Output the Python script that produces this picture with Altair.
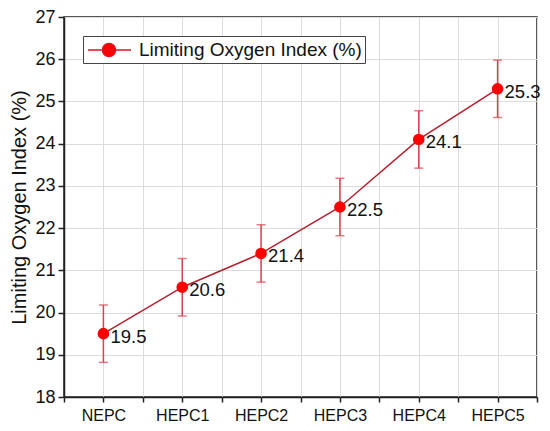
import altair as alt
import pandas as pd

categories = ["NEPC", "HEPC1", "HEPC2", "HEPC3", "HEPC4", "HEPC5"]
loi = [19.5, 20.6, 21.4, 22.5, 24.1, 25.3]
err = [0.68, 0.68, 0.68, 0.68, 0.68, 0.68]
series_name = "Limiting Oxygen Index (%)"

df = pd.DataFrame({
    "idx": list(range(len(categories))),
    "cat": categories,
    "loi": loi,
    "lo": [v - e for v, e in zip(loi, err)],
    "hi": [v + e for v, e in zip(loi, err)],
    "label": [f"{v:.1f}" for v in loi],
    "series": [series_name] * len(categories),
})

FONT = "Arial, Liberation Sans, sans-serif"
half_vals_x = [i / 2 for i in range(-1, 2 * len(categories))]
half_vals_y = [18 + i / 2 for i in range(0, 19)]

xlab = "''"
for i in reversed(range(len(categories))):
    xlab = f"(datum.value == {i}) ? '{categories[i]}' : ({xlab})"

is_int = "datum.value % 1 == 0"

x_scale = alt.Scale(domain=[-0.5, len(categories) - 0.5], nice=False, zero=False)
x_axis = alt.Axis(
    title=None, values=half_vals_x, labelExpr=xlab, grid=True,
    gridColor="#dcdcdc", gridWidth=1, tickSize=5, tickColor="#222",
    tickWidth=1.5, domainColor="#222", domainWidth=1.5,
    labelFontSize=16, labelFont=FONT, labelColor="#111", labelPadding=5,
    labelOverlap=False,
)
y_scale = alt.Scale(domain=[18, 27], nice=False, zero=False)
y_axis = alt.Axis(
    title="Limiting Oxygen Index (%)", values=half_vals_y, format="d",
    labelExpr=f"{is_int} ? datum.label : ''",
    grid=True,
    gridColor={"condition": {"test": is_int, "value": "#dcdcdc"}, "value": "rgba(0,0,0,0)"},
    tickSize={"condition": {"test": is_int, "value": 6}, "value": 3},
    gridWidth=1, tickColor="#222", tickWidth=1.5,
    domainColor="#222", domainWidth=1.5,
    labelFontSize=18, labelFont=FONT, labelColor="#111", labelPadding=3,
    labelOverlap=False,
    titleFontSize=20, titleFont=FONT, titleFontWeight="normal", titleColor="#111",
    titlePadding=5,
)

X = alt.X("idx:Q", scale=x_scale, axis=x_axis)
def Y(field):
    return alt.Y(field, type="quantitative", scale=y_scale, axis=y_axis)

base = alt.Chart(df)

line = base.mark_line(color="#b5202e", strokeWidth=1.5).encode(x=X, y=Y("loi"))
bars = base.mark_rule(color="#d9434f", strokeWidth=1.5).encode(
    x=X, y=Y("lo"), y2="hi:Q"
)
cap_lo = base.mark_tick(color="#d9434f", orient="horizontal", size=9, thickness=1.5).encode(
    x=X, y=Y("lo")
)
cap_hi = base.mark_tick(color="#d9434f", orient="horizontal", size=9, thickness=1.5).encode(
    x=X, y=Y("hi")
)
legend_path = ("M-2.1,0L2.2,0M-0.65,0A0.65,0.65 0 1,0 0.65,0"
               "A0.65,0.65 0 1,0 -0.65,0Z")
points = base.mark_point(filled=True, size=135, opacity=1, strokeWidth=0).encode(
    x=X, y=Y("loi"),
    color=alt.Color(
        "series:N",
        scale=alt.Scale(range=["#ff0000"]),
        legend=alt.Legend(
            title=None, orient="none", legendX=19, legendY=19,
            symbolType=legend_path, symbolSize=400, symbolOffset=12,
            symbolFillColor="#ff0000", symbolStrokeColor="#e01020",
            symbolStrokeWidth=1.5,
            labelFontSize=19, labelFont=FONT, labelColor="#111", labelOffset=19,
            labelLimit=0,
            padding=3, strokeColor="#444", fillColor="white",
        ),
    ),
)
labels = base.mark_text(align="left", baseline="middle", dx=7, dy=3,
                        fontSize=18.5, font=FONT, color="#111").encode(
    x=X, y=Y("loi"), text="label:N"
)

chart = alt.layer(line, bars, cap_lo, cap_hi, points, labels).properties(
    width=473, height=380,
    autosize=alt.AutoSizeParams(type="none"),
    padding={"left": 56, "top": 9, "right": 5, "bottom": 30},
).configure_view(stroke="#222", strokeWidth=1.5)

chart.save("out.html", embed_options={"renderer": "svg", "actions": False})
